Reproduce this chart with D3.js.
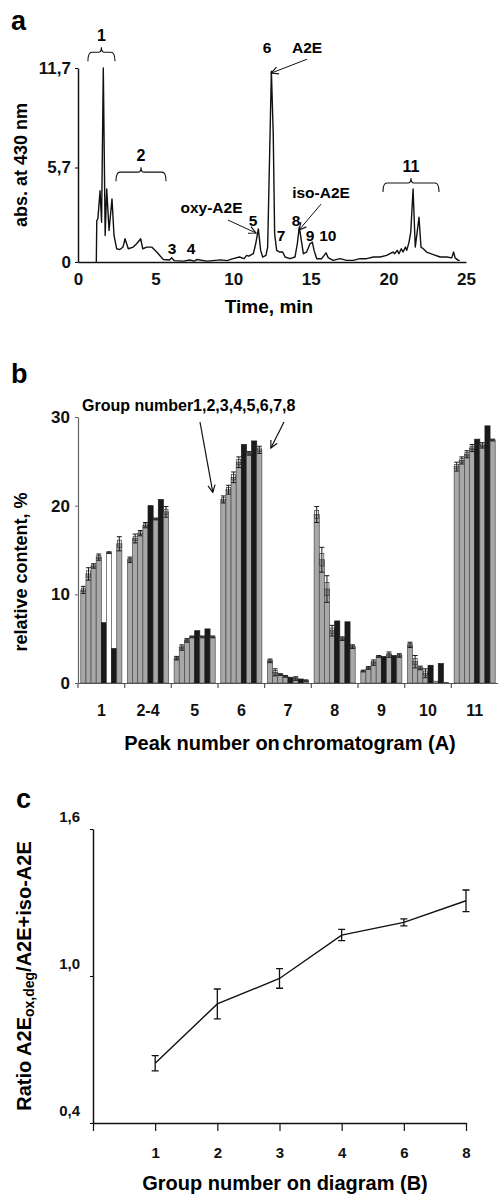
<!DOCTYPE html>
<html>
<head>
<meta charset="utf-8">
<script src="https://cdn.jsdelivr.net/npm/d3@7"></script>
<style>
  body { margin: 0; background: #fff; }
  svg { display: block; font-family: "Liberation Sans", Arial, Helvetica, sans-serif; font-weight: bold; }
</style>
</head>
<body>
<svg id="fig" width="498" height="1195"></svg>
<script>
// ---- panel a: chromatogram (time, min / absorbance at 430 nm)
const chromTime = [1.18, 1.21, 1.28, 1.42, 1.52, 1.63, 1.75, 1.85, 2.0, 2.19, 2.32, 2.49, 2.7, 2.9, 3.03, 3.24, 3.56, 3.78, 4.04, 4.17,
  4.43, 4.75, 5.07, 5.5, 5.9, 6.04, 6.2, 6.8, 7.2, 7.5, 7.65, 8.3, 9.2, 9.6, 10.0, 10.4, 10.7, 10.87, 11.0, 11.3,
  11.45, 11.62, 11.77, 11.9, 12.11, 12.22, 12.33, 12.46, 12.58, 12.67, 12.8, 13.0, 13.19, 13.34, 13.66, 13.98, 14.13, 14.26, 14.39, 14.52,
  14.73, 14.95, 15.1, 15.21, 15.38, 15.7, 15.98, 16.13, 16.45, 16.88, 17.31, 17.74, 18.17, 18.6, 19.03, 19.46, 19.89, 20.1, 20.3, 20.4,
  20.57, 20.68, 20.83, 20.94, 21.1, 21.18, 21.33, 21.44, 21.59, 21.73, 21.84, 21.97, 22.1, 22.25, 22.46, 22.9, 23.33, 23.76, 24.08, 24.2,
  24.3, 24.5, 24.6];
const chromAbs = [0, 2.5, 2.6, 4.3, 2.4, 11.7, 1.6, 4.4, 1.9, 3.8, 1.6, 0.8, 0.75, 0.9, 1.4, 0.8, 0.9, 1.1, 1.4, 0.8,
  0.9, 0.9, 0.6, 0.15, 0.12, 0.25, 0.08, 0.05, 0.12, 0.05, 0.15, 0.05, 0.13, 0.08, 0.2, 0.3, 0.2, 0.4, 0.35, 0.5,
  1.1, 2.0, 0.7, 0.3, 0.4, 0.9, 5.7, 11.5, 7.7, 1.7, 0.7, 0.6, 0.6, 0.3, 0.2, 0.3, 1.1, 2.1, 1.3, 0.5,
  0.6, 1.1, 1.2, 0.7, 0.2, 0.2, 0.55, 0.25, 0.1, 0.2, 0.1, 0.1, 0.2, 0.2, 0.3, 0.3, 0.4, 0.5, 0.6, 0.5,
  0.7, 0.5, 0.8, 0.6, 0.9, 0.7, 1.2, 1.8, 4.4, 0.9, 1.7, 2.7, 0.9, 0.8, 0.6, 0.45, 0.3, 0.3, 0.25, 0.6,
  0.25, 0.1, 0.1];
const absTicks = [0, 5.7, 11.7];
const timeTicks = [0, 5, 10, 15, 20, 25];

// bracket annotations [t start, t end, level, label]
const bracketsA = [[0.64, 2.38, 12.65, "1"], [2.45, 5.67, 5.42, "2"], [19.65, 23.26, 4.76, "11"]];
// peak labels [t, abs, text]
const peakLabelsA = [[6.06, 0.84, "3"], [7.28, 0.84, "4"], [11.28, 2.53, "5"], [12.18, 12.95, "6"], [13.08, 1.63, "7"],
  [14.05, 2.53, "8"], [14.95, 1.63, "9"], [16.1, 1.63, "10"],
  [8.6, 3.31, "oxy-A2E"], [14.76, 12.95, "A2E"], [15.66, 4.22, "iso-A2E"]];
// arrows [t0, abs0, t1, abs1]
const arrowsA = [[9.66, 2.53, 11.47, 1.75], [14.76, 12.23, 12.44, 11.39], [15.66, 3.49, 14.24, 1.93]];

// ---- panel b: relative content per peak, groups 1..8
const peaks = ["1", "2-4", "5", "6", "7", "8", "9", "10", "11"];
const groups = ["1", "2", "3", "4", "5", "6", "7", "8"];
const relContent = [
  [10.5, 12.3, 13.2, 14.2, 6.8, 14.7, 3.9, 15.7],
  [13.9, 16.3, 16.9, 17.8, 20.0, 18.5, 20.7, 19.3],
  [2.8, 4.0, 4.8, 5.2, 5.9, 5.2, 6.1, 5.2],
  [20.7, 21.8, 23.2, 24.9, 26.9, 25.9, 27.3, 26.3],
  [2.5, 1.2, 0.95, 0.75, 0.65, 0.5, 0.45, 0.25],
  [19.0, 13.9, 10.6, 5.9, 7.0, 5.0, 6.9, 4.1],
  [1.35, 1.7, 2.3, 3.0, 3.0, 3.2, 3.1, 3.1],
  [4.3, 2.4, 1.7, 1.1, 2.0, 0.2, 2.2, 0.05],
  [24.4, 25.1, 25.8, 26.5, 27.5, 26.8, 29.0, 27.4]
];
const relErr = [
  [0.4, 0.7, 0.25, 0.35, 0, 0.1, 0, 0.8],
  [0.3, 0.5, 0.3, 0.3, 0, 0.1, 0, 0.6],
  [0.2, 0.3, 0.2, 0.1, 0, 0.1, 0, 0.1],
  [0.4, 0.5, 0.6, 0.6, 0, 0.2, 0, 0.4],
  [0.2, 0.4, 0.1, 0.1, 0, 0.2, 0, 0.1],
  [0.9, 1.4, 1.5, 0.6, 0, 0.2, 0, 0.2],
  [0.1, 0.15, 0.3, 0.1, 0, 0.3, 0, 0.2],
  [0.3, 0.7, 0.2, 0.5, 0, 0, 0, 0],
  [0.5, 0.4, 0.4, 0.4, 0, 0.3, 0, 0.1]
];
const groupFill = ["#a8a8a8", "#a8a8a8", "#a8a8a8", "#a8a8a8", "#1a1a1a", "#a8a8a8", "#1a1a1a", "#a8a8a8"];
const relTicks = [0, 10, 20, 30];

// ---- panel c: ratio per group
const ratioGroups = ["1", "2", "3", "4", "6", "8"];
const ratioValues = [0.644, 0.886, 0.99, 1.167, 1.219, 1.307];
const ratioErr = [0.031, 0.061, 0.04, 0.023, 0.014, 0.044];
const ratioTicks = [0.4, 1.0, 1.6];

const comma = d => String(d).replace(".", ",");
const svg = d3.select("#fig");

svg.append("defs").append("marker")
  .attr("id", "arr").attr("viewBox", "0 0 10 10").attr("refX", 9).attr("refY", 5)
  .attr("markerWidth", 9).attr("markerHeight", 9).attr("orient", "auto-start-reverse")
  .attr("markerUnits", "userSpaceOnUse")
  .append("path").attr("d", "M1,1 L9,5 L1,9").attr("fill", "none").attr("stroke", "#111").attr("stroke-width", 1.3);

function styleAxis(g, size) {
  g.attr("font-family", null).attr("font-size", null);
  g.selectAll("text").attr("font-size", size).attr("fill", "#111");
}

// ================= panel a =================
const xA = d3.scaleLinear().domain([0, 25]).range([78, 466]);
const yA = d3.scaleLinear().domain([0, 11.7]).range([262, 68]);

svg.append("text").attr("x", 11).attr("y", 30).attr("font-size", 27).text("a");

svg.append("g").attr("transform", "translate(0,262)")
  .call(d3.axisBottom(xA).tickValues(timeTicks).tickSize(0).tickPadding(11).tickSizeOuter(0))
  .call(g => styleAxis(g, 17))
  .call(g => g.select(".domain").attr("stroke", "#111").attr("stroke-width", 1.5));

svg.append("g").attr("transform", "translate(78,0)")
  .call(d3.axisLeft(yA).tickValues(absTicks).tickFormat(comma).tickSize(3).tickPadding(4).tickSizeOuter(0))
  .call(g => styleAxis(g, 17))
  .call(g => g.select(".domain").attr("stroke", "#111").attr("stroke-width", 1.5));

svg.append("text").attr("transform", `translate(27,${(yA(0) + yA(11.7)) / 2}) rotate(-90)`)
  .attr("text-anchor", "middle").attr("font-size", 18).text("abs. at 430 nm");
svg.append("text").attr("x", 269).attr("y", 313).attr("text-anchor", "middle").attr("font-size", 19).text("Time, min");

const lineA = d3.line().x(i => xA(chromTime[i])).y(i => yA(chromAbs[i]));
svg.append("path").attr("d", lineA(d3.range(chromTime.length)))
  .attr("fill", "none").attr("stroke", "#111").attr("stroke-width", 1.4).attr("stroke-linejoin", "round");

bracketsA.forEach(([t0, t1, lev, lab]) => {
  const x0 = xA(t0), x1 = xA(t1), xc = (x0 + x1) / 2, yt = yA(lev), ye = yt + 9;
  svg.append("path")
    .attr("d", `M${x0},${ye} Q${x0},${yt} ${x0 + 4},${yt} L${xc - 3},${yt} Q${xc},${yt} ${xc},${yt - 5} Q${xc},${yt} ${xc + 3},${yt} L${x1 - 4},${yt} Q${x1},${yt} ${x1},${ye}`)
    .attr("fill", "none").attr("stroke", "#111").attr("stroke-width", 1.1);
  svg.append("text").attr("x", xc).attr("y", yt - 11).attr("text-anchor", "middle").attr("font-size", 16).text(lab);
});

peakLabelsA.forEach(([t, a, lab]) => {
  svg.append("text").attr("x", xA(t)).attr("y", yA(a)).attr("dy", "0.36em")
    .attr("text-anchor", "middle").attr("font-size", 15.5).text(lab);
});

arrowsA.forEach(([t0, a0, t1, a1]) => {
  svg.append("line").attr("x1", xA(t0)).attr("y1", yA(a0)).attr("x2", xA(t1)).attr("y2", yA(a1))
    .attr("stroke", "#111").attr("stroke-width", 1).attr("marker-end", "url(#arr)");
});

// ================= panel b =================
const xB = d3.scaleBand().domain(peaks).range([78, 498]).paddingInner(0.12).paddingOuter(0.06);
const xG = d3.scaleBand().domain(groups).range([0, xB.bandwidth()]);
const yB = d3.scaleLinear().domain([0, 30]).range([683, 417]);

svg.append("text").attr("x", 11).attr("y", 383).attr("font-size", 27).text("b");

const gB = svg.append("g");
peaks.forEach((p, pi) => {
  groups.forEach((g, gi) => {
    const v = relContent[pi][gi], e = relErr[pi][gi];
    const bx = xB(p) + xG(g), bw = xG.bandwidth();
    const white = p === "1" && g === "6";
    gB.append("rect").attr("x", bx).attr("y", yB(v)).attr("width", bw).attr("height", yB(0) - yB(v))
      .attr("fill", white ? "#fff" : groupFill[gi])
      .attr("stroke", groupFill[gi] === "#1a1a1a" ? "#1a1a1a" : "#4a4a4a").attr("stroke-width", 0.7);
    if (e > 0) {
      const cx = bx + bw / 2;
      gB.append("path")
        .attr("d", `M${cx - 2.5},${yB(v + e)} H${cx + 2.5} M${cx},${yB(v + e)} V${yB(v - e)} M${cx - 2.5},${yB(v - e)} H${cx + 2.5}`)
        .attr("stroke", "#1a1a1a").attr("stroke-width", 1).attr("fill", "none");
      gB.append("rect").attr("x", cx - 2).attr("y", yB(v + e * 0.5)).attr("width", 4).attr("height", Math.max(1, yB(v - e * 0.5) - yB(v + e * 0.5)))
        .attr("fill", "none").attr("stroke", "#333").attr("stroke-width", 0.7);
    }
  });
});

svg.append("g").attr("transform", "translate(78,0)")
  .call(d3.axisLeft(yB).tickValues(relTicks).tickSize(3).tickPadding(5).tickSizeOuter(0))
  .call(g => styleAxis(g, 17))
  .call(g => g.select(".domain").attr("stroke", "#666").attr("stroke-width", 1.2))
  .call(g => g.selectAll(".tick line").attr("stroke", "#666"));

svg.append("g").attr("transform", "translate(0,683)")
  .call(d3.axisBottom(xB).tickSize(0).tickPadding(22).tickSizeOuter(0))
  .call(g => styleAxis(g, 16))
  .call(g => g.select(".domain").attr("stroke", "#555").attr("stroke-width", 1.2));

// category boundary ticks
const stepB = xB.step(), gapB = stepB * xB.paddingInner();
svg.append("g").selectAll("line").data(peaks).join("line")
  .attr("x1", d => xB(d) - gapB / 2).attr("x2", d => xB(d) - gapB / 2)
  .attr("y1", 683).attr("y2", 688).attr("stroke", "#555").attr("stroke-width", 1.2);

svg.append("text").attr("transform", `translate(27,572) rotate(-90)`)
  .attr("text-anchor", "middle").attr("font-size", 18).text("relative content, %");
const xlB = svg.append("text").attr("x", 290).attr("y", 750).attr("text-anchor", "middle").attr("font-size", 20);
xlB.append("tspan").text("Peak number on");
xlB.append("tspan").attr("dx", -3).text(" chromatogram (A)");

svg.append("text").attr("x", 82).attr("y", 411).attr("font-size", 16).text("Group number1,2,3,4,5,6,7,8");
svg.append("line").attr("x1", 200).attr("y1", 422).attr("x2", xB("6") - 8).attr("y2", yB(21.5))
  .attr("stroke", "#111").attr("stroke-width", 1.2).attr("marker-end", "url(#arr)");
svg.append("line").attr("x1", 284).attr("y1", 422).attr("x2", xB("6") + xB.bandwidth() + 9).attr("y2", yB(26.5))
  .attr("stroke", "#111").attr("stroke-width", 1.2).attr("marker-end", "url(#arr)");

// ================= panel c =================
const xC = d3.scaleLinear().domain([0, ratioGroups.length]).range([93, 466]);
const yC = d3.scaleLinear().domain([0.4, 1.6]).range([1123, 829]);

svg.append("text").attr("x", 16).attr("y", 808).attr("font-size", 27).text("c");

svg.append("g").attr("transform", "translate(0,1123)")
  .call(d3.axisBottom(xC).tickValues(d3.range(0, ratioGroups.length + 1))
    .tickFormat(i => i === 0 ? "" : ratioGroups[i - 1]).tickSize(8).tickPadding(16).tickSizeOuter(0))
  .call(g => styleAxis(g, 15))
  .call(g => g.select(".domain").attr("stroke", "#111").attr("stroke-width", 1.5))
  .call(g => g.selectAll(".tick line").attr("stroke", "#111").attr("stroke-width", 1.2));

svg.append("g").attr("transform", "translate(93,0)")
  .call(d3.axisLeft(yC).tickValues(ratioTicks).tickFormat(d => comma(d3.format(".1f")(d))).tickSize(3).tickPadding(10).tickSizeOuter(0))
  .call(g => styleAxis(g, 15))
  .call(g => g.selectAll(".tick text").attr("y", -12))
  .call(g => g.select(".domain").attr("stroke", "#111").attr("stroke-width", 1.5));

const lineC = d3.line().x((d, i) => xC(i + 1)).y(d => yC(d));
svg.append("path").attr("d", lineC(ratioValues)).attr("fill", "none").attr("stroke", "#111").attr("stroke-width", 1.4);

ratioValues.forEach((v, i) => {
  const cx = xC(i + 1), e = ratioErr[i];
  svg.append("path")
    .attr("d", `M${cx - 3.5},${yC(v + e)} H${cx + 3.5} M${cx},${yC(v + e)} V${yC(v - e)} M${cx - 3.5},${yC(v - e)} H${cx + 3.5}`)
    .attr("fill", "none").attr("stroke", "#111").attr("stroke-width", 1.3);
});

const yl = svg.append("text").attr("transform", `translate(31,976) rotate(-90)`)
  .attr("text-anchor", "middle").attr("font-size", 20);
yl.append("tspan").text("Ratio  A2E");
yl.append("tspan").attr("font-size", 14).attr("dy", 3).text("ox,deg");
yl.append("tspan").attr("dy", -3).text("/A2E+iso-A2E");

svg.append("text").attr("x", 285).attr("y", 1190).attr("text-anchor", "middle").attr("font-size", 20)
  .text("Group number on diagram (B)");
</script>
</body>
</html>
